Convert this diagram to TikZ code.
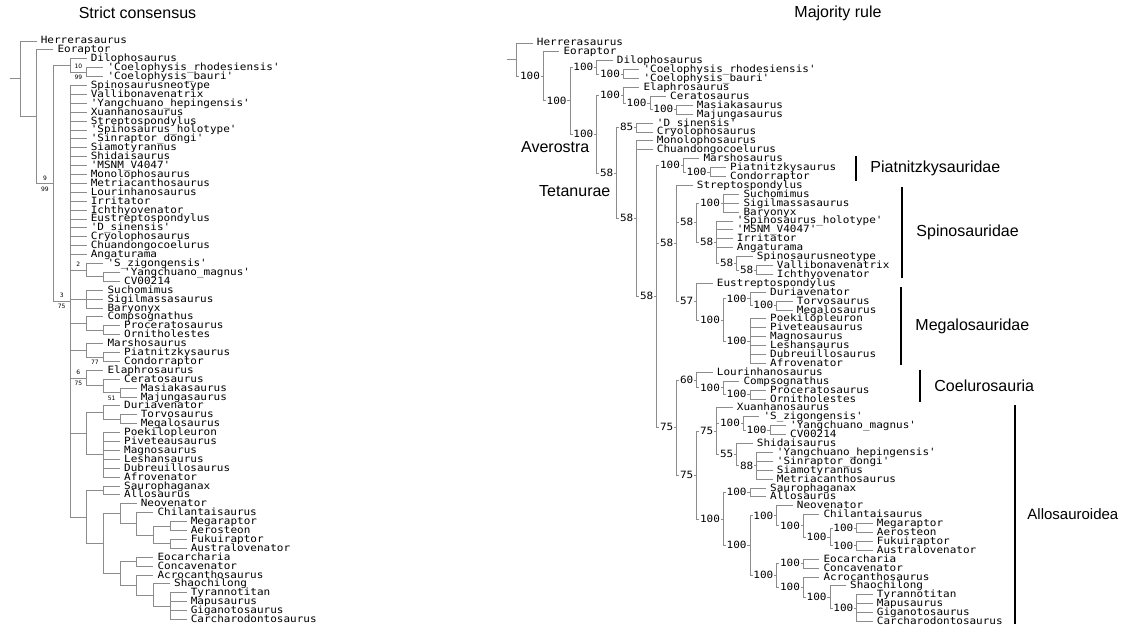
\documentclass[tikz,border=0pt]{standalone}
\usepackage{fontspec}
\setmainfont{Liberation Sans}
\newfontfamily\taxfamily{DejaVu Sans Mono}[FakeStretch=1.1]
\newfontfamily\bremfamily{DejaVu Sans}
\newcommand{\taxfont}{\taxfamily\fontsize{10pt}{10pt}\selectfont}
\newcommand{\bremfont}{\bremfamily\fontsize{6pt}{6pt}\selectfont}
\newcommand{\cladefont}{\fontsize{16pt}{16pt}\selectfont}
\usetikzlibrary{positioning}
\tikzset{
  branch/.style={draw=black!45, line width=0.9pt},
  taxon/.style={anchor=west, inner xsep=4pt, inner ysep=0pt, text height=7pt, text depth=1pt, font=\taxfont},
  support/.style={fill=white, inner xsep=0.8pt, inner ysep=0pt, text height=7pt, text depth=0.5pt, font=\taxfont},
  bremer/.style={inner sep=0pt, font=\bremfont},
  cladebar/.style={line width=2.2pt},
  cladename/.style={anchor=west, xshift=10pt, font=\cladefont},
  heading/.style={font=\cladefont},
}
\begin{document}
\begin{tikzpicture}[x=1pt,y=-1pt]
\useasboundingbox (0,0) rectangle (1126,628);
\fill[white] (0,0) rectangle (1126,628);
% titles
\node[heading] (tstrict) at (137.5,13) {Strict consensus};
\node[heading] (tmajor) at (838,13) {Majority rule};

% strict consensus tree (one row = 8.9pt)
\begin{scope}[yshift=-32.1pt,y=-8.9pt]
  \coordinate (lroot) at (10,5.249);
  \coordinate (lR)    at (20,5.249);
  \coordinate (lB)    at (36.667,9.498);
  \coordinate (lC)    at (53.333,16.996);
  \coordinate (lN1)   at (70,3.75);
  \coordinate (lN2)   at (86.667,4.5);
  \coordinate (lD)    at (70,30.242);
  \coordinate (lE)    at (86.667,26.75);
  \coordinate (lE2)   at (103.333,27.5);
  \coordinate (lF)    at (86.667,30);
  \coordinate (lG)    at (86.667,32.75);
  \coordinate (lG2)   at (103.333,33.5);
  \coordinate (lH)    at (86.667,35.75);
  \coordinate (lH2)   at (103.333,36.5);
  \coordinate (lI)    at (86.667,38.875);
  \coordinate (lI2)   at (103.333,39.75);
  \coordinate (lI3)   at (120,40.5);
  \coordinate (lJ)    at (86.667,45.125);
  \coordinate (lJ1)   at (103.333,42.75);
  \coordinate (lJ1a)  at (120,43.5);
  \coordinate (lJ2)   at (103.333,47.5);
  \coordinate (lK)    at (86.667,54.484);
  \coordinate (lK1)   at (103.333,51.5);
  \coordinate (lK2)   at (103.333,57.469);
  \coordinate (lK2a)  at (120,54.125);
  \coordinate (lK2a1) at (136.667,55.25);
  \coordinate (lK2a2) at (153.333,56.5);
  \coordinate (lMA)   at (170,55.5);
  \coordinate (lFA)   at (170,57.5);
  \coordinate (lK2b)  at (120,60.8125);
  \coordinate (lEC)   at (136.667,59.5);
  \coordinate (lAS)   at (136.667,62.125);
  \coordinate (lSH)   at (153.333,63.25);
  \coordinate (lTM)   at (170,64.5);
  \draw[branch] (lroot) -- (lR);
  % internal branches with the two support values
  \foreach \a/\b/\up/\dn in {lR/lB/{}/{}, lB/lC/9/99, lC/lN1/{}/{}, lC/lD/3/75,
      lN1/lN2/10/99, lD/lE/2/{}, lE/lE2/{}/{}, lD/lF/{}/{}, lD/lG/{}/{},
      lG/lG2/{}/{}, lD/lH/{}/{}, lH/lH2/{}/77, lD/lI/6/75, lI/lI2/{}/{},
      lI2/lI3/{}/51, lD/lJ/{}/{}, lJ/lJ1/{}/{}, lJ1/lJ1a/{}/{}, lJ/lJ2/{}/{},
      lD/lK/{}/{}, lK/lK1/{}/{}, lK/lK2/{}/{}, lK2/lK2a/{}/{}, lK2a/lK2a1/{}/{},
      lK2a1/lK2a2/{}/{}, lK2a2/lMA/{}/{}, lK2a2/lFA/{}/{}, lK2/lK2b/{}/{},
      lK2b/lEC/{}/{}, lK2b/lAS/{}/{}, lAS/lSH/{}/{}, lSH/lTM/{}/{}}
    \draw[branch] (\a) |- (\b)
      node[pos=0.75,bremer,yshift=5.5pt] {\up}
      node[pos=0.75,bremer,yshift=-5.5pt] {\dn};
  % terminal taxa
  \foreach \pa/\tx [count=\n] in {lR/Herrerasaurus, lB/Eoraptor, lN1/Dilophosaurus,
      lN2/'Coelophysis\_rhodesiensis', lN2/'Coelophysis\_bauri',
      lD/Spinosaurusneotype, lD/Vallibonavenatrix, lD/'Yangchuano\_hepingensis',
      lD/Xuanhanosaurus, lD/Streptospondylus, lD/'Spinosaurus\_holotype',
      lD/'Sinraptor\_dongi', lD/Siamotyrannus, lD/Shidaisaurus, lD/'MSNM\_V4047',
      lD/Monolophosaurus, lD/Metriacanthosaurus, lD/Lourinhanosaurus, lD/Irritator,
      lD/Ichthyovenator, lD/Eustreptospondylus, lD/'D\_sinensis', lD/Cryolophosaurus,
      lD/Chuandongocoelurus, lD/Angaturama,
      lE/'S\_zigongensis', lE2/'Yangchuano\_magnus', lE2/CV00214,
      lF/Suchomimus, lF/Sigilmassasaurus, lF/Baryonyx,
      lG/Compsognathus, lG2/Proceratosaurus, lG2/Ornitholestes,
      lH/Marshosaurus, lH2/Piatnitzkysaurus, lH2/Condorraptor,
      lI/Elaphrosaurus, lI2/Ceratosaurus, lI3/Masiakasaurus, lI3/Majungasaurus,
      lJ1/Duriavenator, lJ1a/Torvosaurus, lJ1a/Megalosaurus,
      lJ2/Poekilopleuron, lJ2/Piveteausaurus, lJ2/Magnosaurus, lJ2/Leshansaurus,
      lJ2/Dubreuillosaurus, lJ2/Afrovenator,
      lK1/Saurophaganax, lK1/Allosaurus, lK2a/Neovenator, lK2a1/Chilantaisaurus,
      lMA/Megaraptor, lMA/Aerosteon, lFA/Fukuiraptor, lFA/Australovenator,
      lEC/Eocarcharia, lEC/Concavenator, lAS/Acrocanthosaurus, lSH/Shaochilong,
      lTM/Tyrannotitan, lTM/Mapusaurus, lTM/Giganotosaurus, lTM/Carcharodontosaurus} {
    \path (\pa) ++(16.667,0) coordinate (lx);
    \node[taxon] (l\n) at (lx |- 0,\n) {\tx};
    \draw[branch] (\pa) |- (l\n);
  }
\end{scope}

% majority rule tree (one row = 8.9pt)
\begin{scope}[yshift=-34.1pt,y=-8.9pt]
  \coordinate (rroot) at (506.7,2.875);
  \coordinate (rR)    at (516.7,2.875);
  \coordinate (rB)    at (543.3,4.75);
  \coordinate (rC)    at (570,7.5);
  \coordinate (rN1)   at (596.7,3.75);
  \coordinate (rN2)   at (623.3,4.5);
  \coordinate (rC2)   at (596.7,11.25);
  \coordinate (rCE)   at (623.3,6.875);
  \coordinate (rCE2)  at (650,7.75);
  \coordinate (rM)    at (676.7,8.5);
  \coordinate (rT)    at (616.7,15.62);
  \coordinate (rDC)   at (636.7,10.5);
  \coordinate (rT2)   at (636.7,20.74);
  \coordinate (rT3)   at (656.7,29.48);
  \coordinate (rH)    at (683.3,14.75);
  \coordinate (rH2)   at (710,15.5);
  \coordinate (rT4)   at (676.7,23.53);
  \coordinate (rSP)   at (696.7,21.19);
  \coordinate (rSU)   at (723.3,19);
  \coordinate (rSP2)  at (716.7,23.375);
  \coordinate (rSP3)  at (736.7,25.75);
  \coordinate (rSP4)  at (756.7,26.5);
  \coordinate (rMG)   at (696.7,30.0625);
  \coordinate (rMGa)  at (723.3,32.125);
  \coordinate (rMG1)  at (750,29.75);
  \coordinate (rMG1a) at (776.7,30.5);
  \coordinate (rMG2)  at (750,34.5);
  \coordinate (rT5)   at (676.7,44.215);
  \coordinate (rCO)   at (696.7,38.875);
  \coordinate (rCO2)  at (723.3,39.75);
  \coordinate (rCO3)  at (750,40.5);
  \coordinate (rAL)   at (696.7,49.555);
  \coordinate (rAL1)  at (716.7,44.625);
  \coordinate (rAL1a) at (743.3,43.75);
  \coordinate (rAL1b) at (770,44.5);
  \coordinate (rAL1c) at (736.7,47.25);
  \coordinate (rAL1d) at (756.7,48.5);
  \coordinate (rAL2)  at (723.3,54.484);
  \coordinate (rAL2a) at (750,51.5);
  \coordinate (rAL2b) at (750,57.469);
  \coordinate (rAL3)  at (776.7,54.125);
  \coordinate (rAL3a) at (803.3,55.25);
  \coordinate (rAL3b) at (830,56.5);
  \coordinate (rMA)   at (856.7,55.5);
  \coordinate (rFA)   at (856.7,57.5);
  \coordinate (rAL4)  at (776.7,60.8125);
  \coordinate (rEC)   at (803.3,59.5);
  \coordinate (rAC)   at (803.3,62.125);
  \coordinate (rAC2)  at (830,63.25);
  \coordinate (rAC3)  at (856.7,64.5);
  \draw[branch] (rroot) -- (rR);
  % internal branches with the majority value
  \foreach \a/\b/\s in {rR/rB/100, rB/rC/100, rC/rN1/100, rN1/rN2/100, rC/rC2/100,
      rC2/rCE/100, rCE/rCE2/100, rCE2/rM/100, rC2/rT/58, rT/rDC/85, rT/rT2/58,
      rT2/rT3/58, rT3/rH/100, rH/rH2/100, rT3/rT4/58, rT4/rSP/58, rSP/rSU/100,
      rSP/rSP2/58, rSP2/rSP3/58, rSP3/rSP4/58, rT4/rMG/57, rMG/rMGa/100,
      rMGa/rMG1/100, rMG1/rMG1a/100, rMGa/rMG2/100, rT3/rT5/75, rT5/rCO/60,
      rCO/rCO2/100, rCO2/rCO3/100, rT5/rAL/75, rAL/rAL1/75, rAL1/rAL1a/100,
      rAL1a/rAL1b/100, rAL1/rAL1c/55, rAL1c/rAL1d/88, rAL/rAL2/100,
      rAL2/rAL2a/100, rAL2/rAL2b/100, rAL2b/rAL3/100, rAL3/rAL3a/100,
      rAL3a/rAL3b/100, rAL3b/rMA/100, rAL3b/rFA/100, rAL2b/rAL4/100,
      rAL4/rEC/100, rAL4/rAC/100, rAC/rAC2/100, rAC2/rAC3/100}
    \draw[branch] (\a) |- (\b) node[pos=0.75,support] {\s};
  % terminal taxa
  \foreach \pa/\tx [count=\n] in {rR/Herrerasaurus, rB/Eoraptor, rN1/Dilophosaurus,
      rN2/'Coelophysis\_rhodesiensis', rN2/'Coelophysis\_bauri',
      rCE/Elaphrosaurus, rCE2/Ceratosaurus, rM/Masiakasaurus, rM/Majungasaurus,
      rDC/'D\_sinensis', rDC/Cryolophosaurus, rT2/Monolophosaurus,
      rT2/Chuandongocoelurus, rH/Marshosaurus, rH2/Piatnitzkysaurus,
      rH2/Condorraptor, rT4/Streptospondylus, rSU/Suchomimus,
      rSU/Sigilmassasaurus, rSU/Baryonyx, rSP2/'Spinosaurus\_holotype',
      rSP2/'MSNM\_V4047', rSP2/Irritator, rSP2/Angaturama,
      rSP3/Spinosaurusneotype, rSP4/Vallibonavenatrix, rSP4/Ichthyovenator,
      rMG/Eustreptospondylus, rMG1/Duriavenator, rMG1a/Torvosaurus,
      rMG1a/Megalosaurus, rMG2/Poekilopleuron, rMG2/Piveteausaurus,
      rMG2/Magnosaurus, rMG2/Leshansaurus, rMG2/Dubreuillosaurus,
      rMG2/Afrovenator, rCO/Lourinhanosaurus, rCO2/Compsognathus,
      rCO3/Proceratosaurus, rCO3/Ornitholestes, rAL1/Xuanhanosaurus,
      rAL1a/'S\_zigongensis', rAL1b/'Yangchuano\_magnus', rAL1b/CV00214,
      rAL1c/Shidaisaurus, rAL1d/'Yangchuano\_hepingensis', rAL1d/'Sinraptor\_dongi',
      rAL1d/Siamotyrannus, rAL1d/Metriacanthosaurus, rAL2a/Saurophaganax,
      rAL2a/Allosaurus, rAL3/Neovenator, rAL3a/Chilantaisaurus,
      rMA/Megaraptor, rMA/Aerosteon, rFA/Fukuiraptor, rFA/Australovenator,
      rEC/Eocarcharia, rEC/Concavenator, rAC/Acrocanthosaurus, rAC2/Shaochilong,
      rAC3/Tyrannotitan, rAC3/Mapusaurus, rAC3/Giganotosaurus,
      rAC3/Carcharodontosaurus} {
    \path (\pa) ++(16,0) coordinate (rx);
    \node[taxon] (r\n) at (rx |- 0,\n) {\tx};
    \draw[branch] (\pa) |- (r\n);
  }
\end{scope}

% clade names
\node[anchor=west,inner sep=0pt,font=\cladefont] (averostra) at (521,147) {Averostra};
\node[anchor=west,inner sep=0pt,font=\cladefont] (tetanurae) at (539,191) {Tetanurae};
\draw[cladebar] (856,156) -- node[cladename] (piat) {Piatnitzkysauridae} (856,181);
\draw[cladebar] (902,187) -- node[cladename] (spino) {Spinosauridae} (902,278);
\draw[cladebar] (901,287) -- node[cladename] (megalo) {Megalosauridae} (901,365);
\draw[cladebar] (920,370) -- node[cladename] (coelu) {Coelurosauria} (920,402);
\draw[cladebar] (1015,405) -- node[cladename,xshift=-2pt,font=\fontsize{15pt}{15pt}\selectfont] (allo) {Allosauroidea} (1015,624);
\end{tikzpicture}
\end{document}
